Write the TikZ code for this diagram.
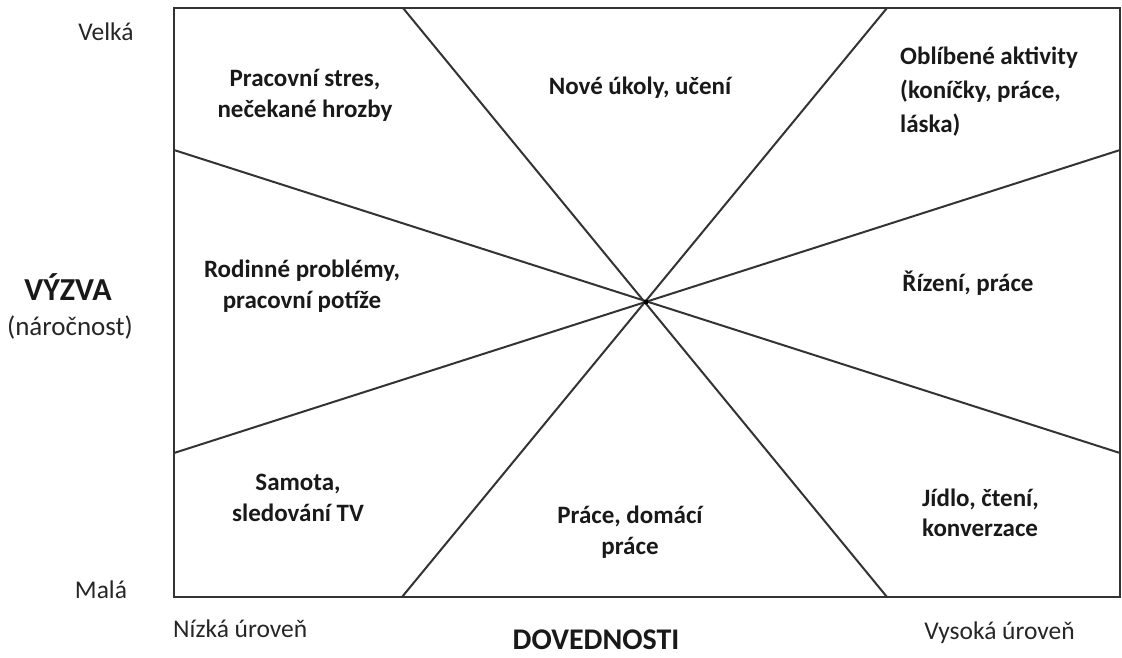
\documentclass[tikz,border=0pt]{standalone}
\usepackage{fontspec}
\setmainfont{Carlito}
\begin{document}
\begin{tikzpicture}[x=1pt,y=-1pt,
  frame/.style={draw=black!80,line width=2.4pt},
  ray/.style={draw=black!80,line width=2pt},
  lab/.style={font=\bfseries\fontsize{25}{31}\selectfont,align=center,text=black!90,inner sep=0pt},
  axis/.style={font=\fontsize{25.5}{28}\selectfont,text=black!85,inner sep=0pt},
  big/.style={font=\bfseries\fontsize{32}{36}\selectfont,text=black!90,inner sep=0pt}]
\useasboundingbox (0,0) rectangle (1122,657);
\coordinate (tl) at (174,8);
\coordinate (br) at (1120,597);
\coordinate (t1) at (403,8);
\coordinate (t2) at (887,8);
\coordinate (b1) at (402,597);
\coordinate (b2) at (887,597);
\coordinate (l1) at (174,150);
\coordinate (l2) at (174,453);
\coordinate (r1) at (1120,150);
\coordinate (r2) at (1120,453);
\draw[ray] (t1) -- (b2);
\draw[ray] (t2) -- (b1);
\draw[ray] (l1) -- (r2);
\draw[ray] (l2) -- (r1);
\draw[frame] (tl) rectangle (br);
\fill[black] (646,302) circle (2.5pt);
\node[lab] (n1) at (305,95) {Pracovní stres,\\nečekané hrozby};
\node[lab] (n2) at (640,88) {Nové úkoly, učení};
\node[lab,align=left,anchor=west,font=\bfseries\fontsize{25}{34}\selectfont] (n3) at (900,92) {Oblíbené aktivity\\(koníčky, práce,\\láska)};
\node[lab] (n4) at (302,286) {Rodinné problémy,\\pracovní potíže};
\node[lab] (n5) at (968,283) {Řízení, práce};
\node[lab] (n6) at (298,498) {Samota,\\sledování TV};
\node[lab] (n7) at (630,532) {Práce, domácí\\práce};
\node[lab,align=left,anchor=west,font=\bfseries\fontsize{25}{30}\selectfont] (n8) at (922,513) {Jídlo, čtení,\\konverzace};
\node[axis] (velka) at (106,32) {Velká};
\node[axis] (mala) at (101,590) {Malá};
\node[big] (vyzva) at (68,287) {VÝZVA};
\node[axis,font=\fontsize{27}{30}\selectfont] (narocnost) at (70,327) {(náročnost)};
\node[axis,anchor=west] (nizka) at (173,629) {Nízká úroveň};
\node[axis,anchor=east] (vysoka) at (1075,633) {Vysoká úroveň};
\node[big,font=\bfseries\fontsize{30}{34}\selectfont,anchor=base] (dov) at (596,649) {DOVEDNOSTI};
\end{tikzpicture}
\end{document}
